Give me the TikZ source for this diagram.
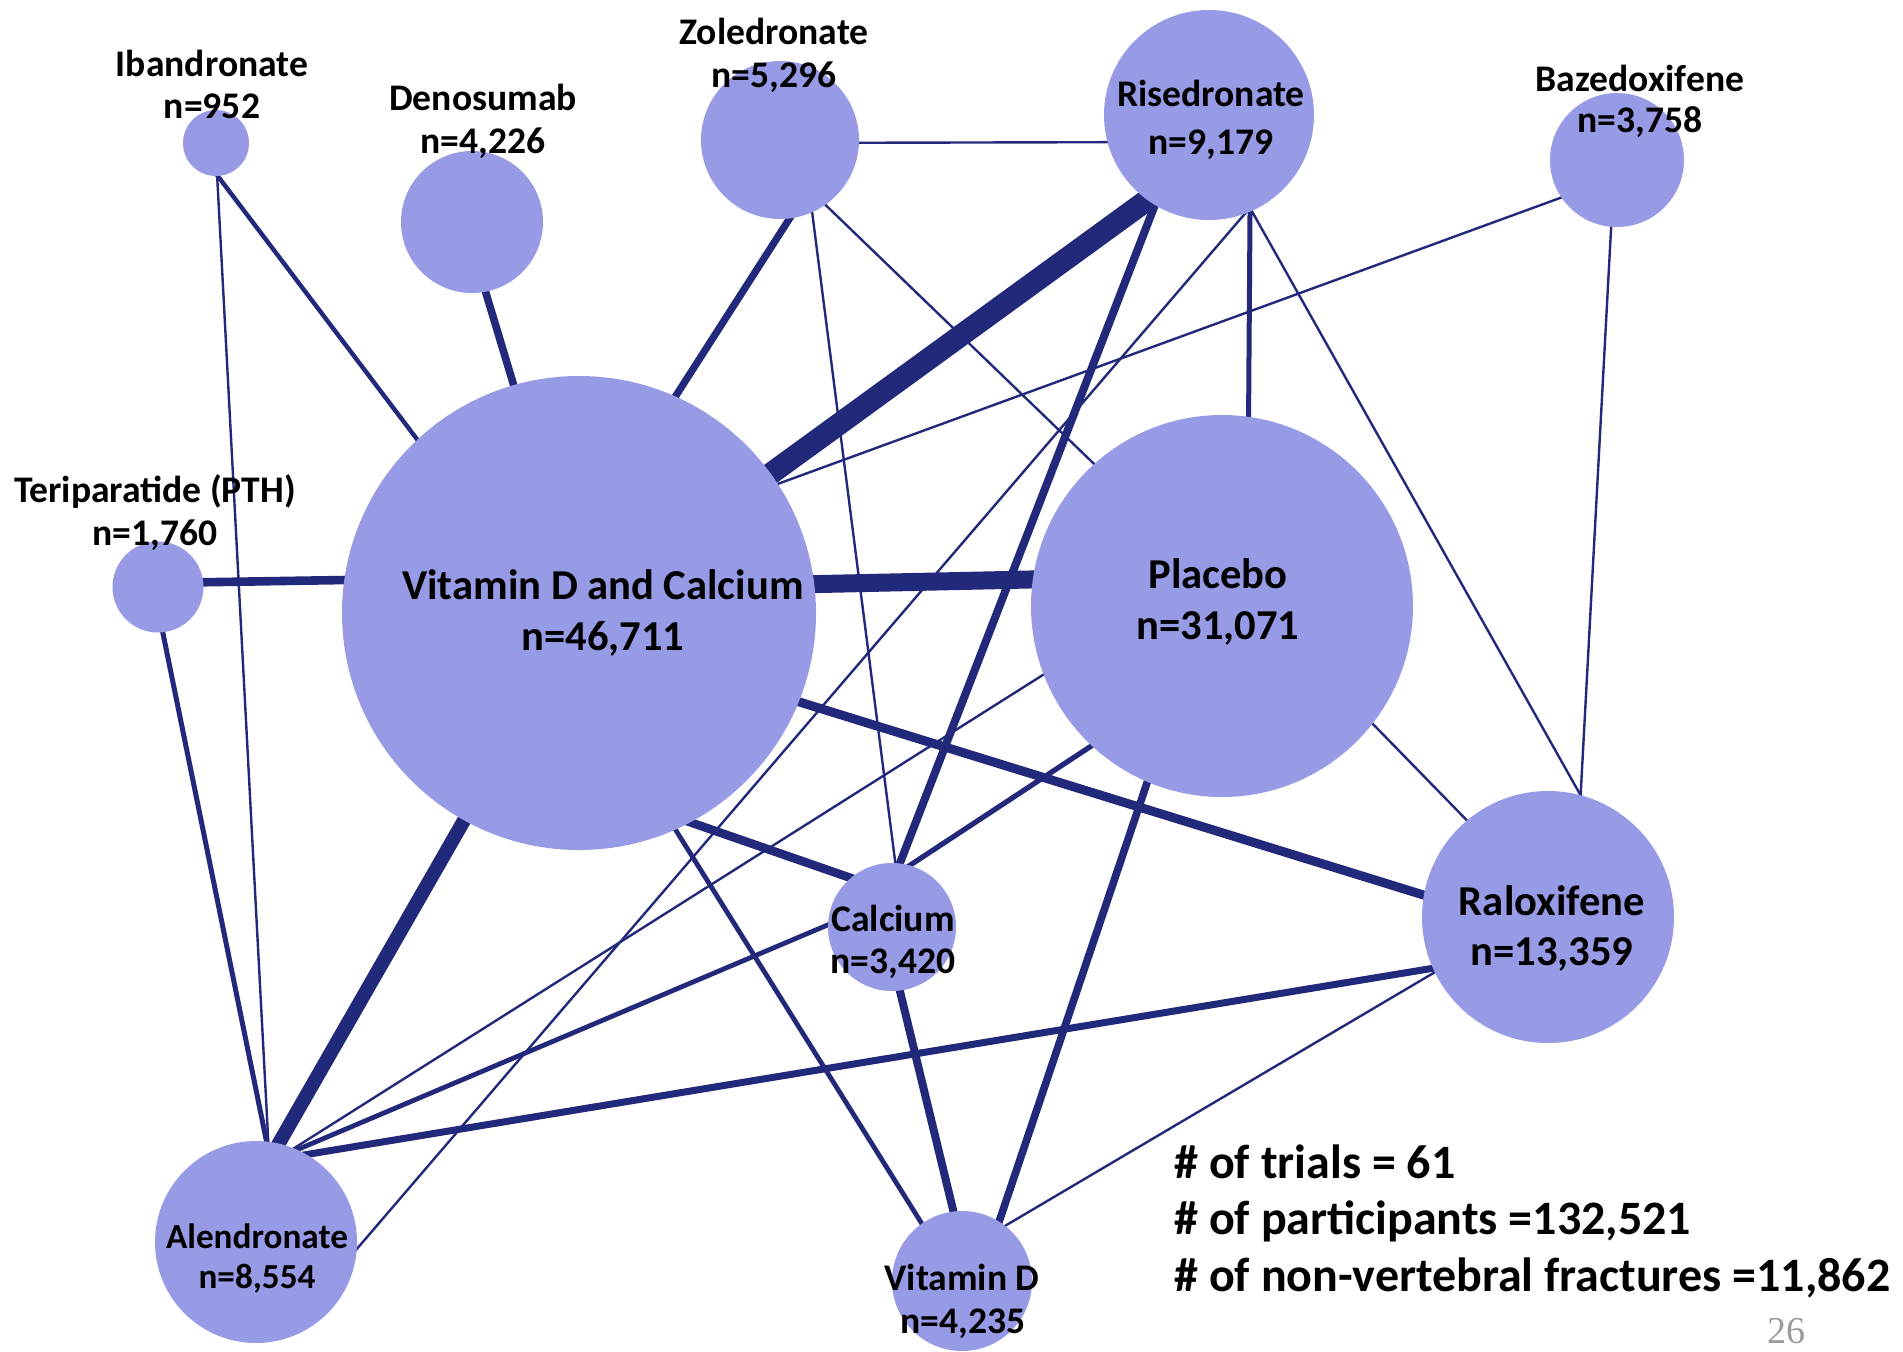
\documentclass[tikz,border=0pt]{standalone}
\usepackage{fontspec}
\setmainfont{Carlito}
\newfontfamily\pagenumfont{Liberation Serif}
\usetikzlibrary{backgrounds}
\definecolor{bubble}{RGB}{151,155,230}
\definecolor{edgecol}{RGB}{35,41,122}
\definecolor{pagegray}{RGB}{155,155,155}
\begin{document}
\begin{tikzpicture}[x=0.5pt,y=-0.5pt,
  bub/.style={circle,fill=bubble,draw=none,inner sep=0pt,outer sep=0pt,minimum size=#1},
  lbl/.style={anchor=base,inner sep=0pt,font=\bfseries\fontsize{18.8}{21}\selectfont},
  lblsm/.style={anchor=base,inner sep=0pt,font=\bfseries\fontsize{17.6}{20}\selectfont},
  lblbig/.style={anchor=base,inner sep=0pt,font=\bfseries\fontsize{21.3}{24}\selectfont},
  info/.style={anchor=base west,inner sep=0pt,font=\bfseries\fontsize{24}{28}\selectfont},
  lk/.style={draw=edgecol,line width=#1,shorten <=-2pt,shorten >=-2pt},
]
\useasboundingbox (0,0) rectangle (1903,1351);

% bubbles
\node[bub=33pt]   (iba) at (216,143) {};
\node[bub=71pt]   (den) at (472,222) {};
\node[bub=79pt]   (zol) at (780,140) {};
\node[bub=105pt]  (ris) at (1209,115) {};
\node[bub=67pt]   (baz) at (1617,160) {};
\node[bub=45.5pt] (ter) at (158,587) {};
\node[bub=237pt]  (vdc) at (579,613) {};
\node[bub=191pt]  (pla) at (1222,606) {};
\node[bub=64pt]   (cal) at (892,927) {};
\node[bub=126pt]  (ral) at (1548,917) {};
\node[bub=101pt]  (ale) at (256,1242) {};
\node[bub=70pt]   (vid) at (962,1281) {};

% labels
\node[lbl] (ibaA) at (212,76) {Ibandronate};
\node[lbl] (ibaB) at (212,118) {n=952};
\node[lbl] (denA) at (483,110) {Denosumab};
\node[lbl] (denB) at (483,153) {n=4,226};
\node[lbl] (zolA) at (774,44) {Zoledronate};
\node[lbl] (zolB) at (774,87) {n=5,296};
\node[lbl] (risA) at (1211,106) {Risedronate};
\node[lbl] (risB) at (1211,154) {n=9,179};
\node[lbl] (bazA) at (1640,91) {Bazedoxifene};
\node[lbl] (bazB) at (1640,132) {n=3,758};
\node[lbl] (terA) at (155,502) {Teriparatide (PTH)};
\node[lbl] (terB) at (155,545) {n=1,760};
\node[lblbig] (vdcA) at (603,599) {Vitamin D and Calcium};
\node[lblbig] (vdcB) at (603,650) {n=46,711};
\node[lblbig] (plaA) at (1218,588) {Placebo};
\node[lblbig] (plaB) at (1218,639) {n=31,071};
\node[lbl] (calA) at (893,931) {Calcium};
\node[lbl] (calB) at (893,973) {n=3,420};
\node[lblbig] (ralA) at (1552,915) {Raloxifene};
\node[lblbig] (ralB) at (1552,965) {n=13,359};
\node[lblsm] (aleA) at (257,1248) {Alendronate};
\node[lblsm] (aleB) at (257,1288) {n=8,554};
\node[lbl] (vidA) at (962,1290) {Vitamin D};
\node[lbl] (vidB) at (963,1333) {n=4,235};

\node[info] (infoA) at (1174,1178) {\# of trials = 61};
\node[info] (infoB) at (1174,1234) {\# of participants =132,521};
\node[info] (infoC) at (1174,1291) {\# of non-vertebral fractures =11,862};
\node[anchor=base,inner sep=0pt,text=pagegray,font=\pagenumfont\fontsize{19}{21}\selectfont] (pnum) at (1786,1343) {26};

% connectors
\begin{scope}[on background layer]
\fill[white] (0,0) rectangle (1903,1351);
\draw[lk=2.2pt]  (iba.-87)   -- (vdc.133);
\draw[lk=1.2pt]  (iba.-88)   -- (ale.83);
\draw[lk=3.8pt]  (den.-79)   -- (vdc.106);
\draw[lk=3.6pt]  (zol.-83)   -- (vdc.66);
\draw[lk=1.2pt]  (zol.-2)    -- (ris.-165);
\draw[lk=1.2pt]  (zol.-55)   -- (pla.132.5);
\draw[lk=1.2pt]  (zol.-66)   -- (cal.87);
\draw[lk=11pt]   (ris.-126)  -- (vdc.36.4);
\draw[lk=4pt]    (ris.-121)  -- (cal.83);
\draw[lk=2.5pt]  (ris.-67.6) -- (pla.82);
\draw[lk=1.2pt]  (ris.-70)   -- (ale.-4.5);
\draw[lk=1.2pt]  (ris.-66)   -- (ral.75);
\draw[lk=1.2pt]  (baz.-146)  -- (vdc.33.3);
\draw[lk=1.2pt]  (baz.-95)   -- (ral.75);
\draw[lk=4.3pt]  (ter.6.3)   -- (vdc.172.5);
\draw[lk=2.5pt]  (ter.-84)   -- (ale.84);
\draw[lk=9pt]    (vdc.7.5)   -- (pla.172.8);
\draw[lk=4.5pt]  (vdc.-22)   -- (ral.170);
\draw[lk=4.3pt]  (vdc.-62)   -- (cal.130);
\draw[lk=7pt]    (vdc.-119)  -- (ale.77);
\draw[lk=2.4pt]  (vdc.-66)   -- (vid.125);
\draw[lk=2.6pt]  (pla.-133)  -- (cal.74);
\draw[lk=1.2pt]  (pla.-159)  -- (ale.68);
\draw[lk=1.2pt]  (pla.-38)   -- (ral.130.5);
\draw[lk=3.8pt]  (pla.-113)  -- (vid.58);
\draw[lk=2.4pt]  (cal.178)   -- (ale.66);
\draw[lk=4pt]    (cal.-83)   -- (vid.97);
\draw[lk=3.5pt]  (ral.-156.5) -- (ale.60.5);
\draw[lk=1.2pt]  (ral.-154)  -- (vid.52.5);
\end{scope}
\end{tikzpicture}
\end{document}
